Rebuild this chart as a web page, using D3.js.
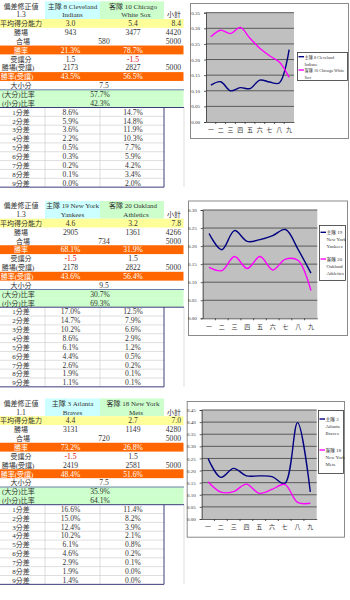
<!DOCTYPE html>
<html>
<head>
<meta charset="utf-8">
<script src="https://cdn.jsdelivr.net/npm/d3@7"></script>
<style>
  body { margin: 0; background: #fff; }
  svg { display: block; }
  text { font-family: "Liberation Serif", "Noto Sans CJK TC", serif; fill: #333; }
</style>
</head>
<body>
<svg id="sheet" width="350" height="600"></svg>
<script>
// ---- data ----
const handicapAdj = ["1.3", "1.3", "1.1"];
const homeTeams = [["主隊  8 Cleveland", "Indians"], ["主隊  19 New York", "Yankees"], ["主隊  3 Atlanta", "Braves"]];
const awayTeams = [["客隊  10 Chicago", "White Sox"], ["客隊  20 Oakland", "Athletics"], ["客隊  18 New York", "Mets"]];
const avgScore = [["3.0", "5.4", "8.4"], ["4.6", "3.2", "7.8"], ["4.4", "2.7", "7.0"]];
const wins = [[943, 3477, 4420], [2905, 1361, 4266], [3131, 1149, 4280]];
const ties = [580, 734, 720];
const totalGames = 5000;
const winPct = [["21.3%", "78.7%"], ["68.1%", "31.9%"], ["73.2%", "26.8%"]];
const spread = [["1.5", "-1.5"], ["-1.5", "1.5"], ["-1.5", "1.5"]];
const spreadWins = [[2173, 2827], [2178, 2822], [2419, 2581]];
const spreadPct = [["43.5%", "56.5%"], ["43.6%", "56.4%"], ["48.4%", "51.6%"]];
const totalLine = ["7.5", "9.5", "7.5"];
const overPct = ["57.7%", "30.7%", "35.9%"];
const underPct = ["42.3%", "69.3%", "64.1%"];
const marginLabels = ["1分差", "2分差", "3分差", "4分差", "5分差", "6分差", "7分差", "8分差", "9分差"];
const homeMargin = [
  [8.6, 5.9, 3.6, 2.2, 0.5, 0.3, 0.2, 0.1, 0.0],
  [17.0, 14.7, 10.2, 8.6, 6.1, 4.4, 2.6, 1.9, 1.1],
  [16.6, 15.0, 12.4, 10.2, 6.1, 4.6, 2.9, 1.9, 1.4]
];
const awayMargin = [
  [14.7, 14.8, 11.9, 10.3, 7.7, 5.9, 4.2, 3.4, 2.0],
  [12.5, 7.9, 6.6, 2.9, 1.2, 0.5, 0.2, 0.1, 0.1],
  [11.4, 8.2, 3.9, 2.1, 0.8, 0.2, 0.1, 0.0, 0.0]
];
// chart: per inning
const innings = ["一", "二", "三", "四", "五", "六", "七", "八", "九"];
const homeLine = [
  [0.118, 0.129, 0.100, 0.110, 0.107, 0.134, 0.128, 0.125, 0.232],
  [0.235, 0.190, 0.243, 0.213, 0.218, 0.229, 0.246, 0.190, 0.125],
  [0.250, 0.172, 0.209, 0.178, 0.178, 0.175, 0.147, 0.398, 0.112]
];
const awayLine = [
  [0.273, 0.294, 0.283, 0.303, 0.268, 0.236, 0.212, 0.192, 0.143],
  [0.141, 0.132, 0.171, 0.138, 0.171, 0.134, 0.164, 0.160, 0.077],
  [0.154, 0.111, 0.113, 0.144, 0.106, 0.122, 0.143, 0.069, 0.065]
];
const yMax = [0.35, 0.30, 0.45];
const legendHome = [["主隊 8 Cleveland", "Indians"], ["主隊 19", "New York", "Yankees"], ["主隊 3", "Atlanta", "Braves"]];
const legendAway = [["客隊 10 Chicago White", "Sox"], ["客隊 20", "Oakland", "Athletics"], ["客隊 18", "New York", "Mets"]];

// ---- layout ----
const blockTop = [1.3, 201, 398.5];
const rowH = 8.85;
const colX = [0, 45, 100, 164, 184];
const chartBox = [
  { box: [190, 3, 348, 138], plot: [206, 12.7, 294, 122], legend: [297, 52, 347, 80], entryY: [4.7, 18], font: 4.2 },
  { box: [188, 200.5, 347, 335], plot: [202.7, 210, 317.3, 318.3], legend: [319, 225, 345, 280], entryY: [7.3, 34], font: 4.8 },
  { box: [186.7, 401, 344, 536.7], plot: [201.7, 410, 316.7, 519], legend: [318, 410, 343, 473], entryY: [9, 40], font: 4.8 }
];

const NAVY = "#000080", MAGENTA = "#ff00ff";
const CJK = "7px";
const svg = d3.select("#sheet");

function fmtInt(v) { return String(v); }

blockTop.forEach((top, b) => {
  const g = svg.append("g").attr("transform", `translate(0,${top})`);
  const rowY = i => i * rowH;
  const midY = i => i * rowH + rowH / 2 + 2.8;

  // backgrounds
  g.append("rect").attr("x", colX[1]).attr("y", 0).attr("width", colX[2] - colX[1]).attr("height", rowH * 2).attr("fill", "#ccffff");
  g.append("rect").attr("x", colX[2]).attr("y", 0).attr("width", colX[3] - colX[2]).attr("height", rowH * 2).attr("fill", "#ccffcc");
  const bands = [[2, "#ffff99"], [5, "#ff6600"], [8, "#ff6600"], [10, "#ccffcc"], [11, "#ccffcc"]];
  bands.forEach(([r, c]) => {
    g.append("rect").attr("x", 0).attr("y", rowY(r)).attr("width", colX[4] - 0.5).attr("height", rowH).attr("fill", c);
  });

  // grid in the margin section
  const grid = g.append("g").attr("stroke", "#c8c8c8").attr("stroke-width", 0.6);
  d3.range(13, 21).forEach(r => {
    grid.append("line").attr("x1", 0).attr("x2", colX[3]).attr("y1", rowY(r)).attr("y2", rowY(r));
  });
  [colX[1], colX[2]].forEach(x => {
    grid.append("line").attr("x1", x).attr("x2", x).attr("y1", rowY(12)).attr("y2", rowY(21));
  });
  grid.append("line").attr("x1", colX[4]).attr("x2", colX[4]).attr("y1", rowY(12)).attr("y2", rowY(21));

  // navy borders
  const nb = g.append("g").attr("stroke", "#3c3c7a").attr("stroke-width", 1);
  nb.append("line").attr("x1", 0).attr("x2", colX[4]).attr("y1", rowY(10)).attr("y2", rowY(10)).attr("stroke", "#6a7fa8");
  nb.append("line").attr("x1", 0).attr("x2", colX[4]).attr("y1", rowY(12)).attr("y2", rowY(12));
  nb.append("line").attr("x1", colX[3]).attr("x2", colX[3]).attr("y1", rowY(12)).attr("y2", rowY(21));
  nb.append("line").attr("x1", 0).attr("x2", colX[3]).attr("y1", rowY(21)).attr("y2", rowY(21));

  const cellText = (x, i, txt, anchor, opts = {}) => {
    g.append("text")
      .attr("x", x).attr("y", midY(i))
      .attr("text-anchor", anchor)
      .style("font-size", opts.size || "7.6px")
      .style("fill", opts.fill || "#333")
      .text(txt);
  };
  const cB = (colX[1] + colX[2]) / 2 - 2, cC = (colX[2] + colX[3]) / 2 + 1, cA = 21, rD = 181, mid = 104;

  // header
  cellText(cA, 0, "偏差修正値", "middle", { size: CJK });
  cellText(cA, 1, handicapAdj[b], "middle");
  cellText(cB + 2, 0, homeTeams[b][0], "middle", { size: CJK });
  cellText(cB + 2, 1, homeTeams[b][1], "middle", { size: CJK });
  cellText(cC, 0, awayTeams[b][0], "middle", { size: CJK });
  cellText(cC + 3, 1, awayTeams[b][1], "middle", { size: CJK });
  cellText(rD, 1, "小計", "end", { size: CJK });

  // body rows
  cellText(cA, 2, "平均得分能力", "middle", { size: CJK });
  avgScore[b].forEach((v, k) => cellText([cB, cC, rD][k], 2, v, k < 2 ? "middle" : "end"));
  cellText(cA, 3, "勝場", "middle", { size: CJK });
  wins[b].forEach((v, k) => cellText([cB, cC, rD][k], 3, fmtInt(v), k < 2 ? "middle" : "end"));
  cellText(cA + 2, 4, "合場", "middle", { size: CJK });
  cellText(mid, 4, fmtInt(ties[b]), "middle");
  cellText(rD, 4, fmtInt(totalGames), "end");
  cellText(cA, 5, "勝率", "middle", { size: CJK, fill: "#fff" });
  winPct[b].forEach((v, k) => cellText([cB, cC][k], 5, v, "middle", { fill: "#fff" }));
  cellText(cA, 6, "受讓分", "middle", { size: CJK });
  spread[b].forEach((v, k) => cellText([cB, cC][k], 6, v, "middle", { fill: v.startsWith("-") ? "#e00000" : "#333" }));
  cellText(cA - 3, 7, "勝場(受讓)", "middle", { size: CJK });
  spreadWins[b].forEach((v, k) => cellText([cB, cC][k], 7, fmtInt(v), "middle"));
  cellText(rD, 7, fmtInt(totalGames), "end");
  cellText(cA - 4, 8, "勝率(受讓)", "middle", { size: CJK, fill: "#fff" });
  spreadPct[b].forEach((v, k) => cellText([cB, cC][k], 8, v, "middle", { fill: "#fff" }));
  cellText(cA, 9, "大小分", "middle", { size: CJK });
  cellText(mid, 9, totalLine[b], "middle");
  cellText(2, 10, "(大分)比率", "start", { size: CJK });
  cellText(100, 10, overPct[b], "middle");
  cellText(2, 11, "(小分)比率", "start", { size: CJK });
  cellText(100, 11, underPct[b], "middle");
  marginLabels.forEach((lab, k) => {
    cellText(cA, 12 + k, lab, "middle", { size: CJK });
    cellText(cB, 12 + k, homeMargin[b][k].toFixed(1) + "%", "middle");
    cellText(cC, 12 + k, awayMargin[b][k].toFixed(1) + "%", "middle");
  });

  // ---- chart ----
  const cfg = chartBox[b];
  const cg = svg.append("g");
  cg.append("rect")
    .attr("x", cfg.box[0] + 0.5).attr("y", cfg.box[1] + 0.5)
    .attr("width", cfg.box[2] - cfg.box[0]).attr("height", cfg.box[3] - cfg.box[1])
    .attr("fill", "#fff").attr("stroke", "#8a8a8a").attr("stroke-width", 1);

  const x = d3.scaleBand().domain(innings).range([cfg.plot[0], cfg.plot[2]]).padding(0);
  const y = d3.scaleLinear().domain([0, yMax[b]]).range([cfg.plot[3], cfg.plot[1]]);
  const yTicks = d3.range(0, Math.round(yMax[b] / 0.05) + 1).map(k => k * 0.05);

  cg.append("rect")
    .attr("x", cfg.plot[0]).attr("y", cfg.plot[1])
    .attr("width", cfg.plot[2] - cfg.plot[0]).attr("height", cfg.plot[3] - cfg.plot[1])
    .attr("fill", "#c0c0c0");

  cg.append("g").selectAll("line").data(yTicks.slice(1)).join("line")
    .attr("x1", cfg.plot[0]).attr("x2", cfg.plot[2])
    .attr("y1", d => y(d)).attr("y2", d => y(d))
    .attr("stroke", "#5a5a5a").attr("stroke-width", 1);

  const yAxis = cg.append("g")
    .attr("transform", `translate(${cfg.plot[0]},0)`)
    .call(d3.axisLeft(y).tickValues(yTicks).tickFormat(d3.format(".2f")).tickSize(2).tickPadding(4));
  yAxis.selectAll("text").style("font-size", "5px").style("fill", "#333");
  yAxis.selectAll("line, path").attr("stroke", "#333").attr("stroke-width", 0.8);

  const xAxis = cg.append("g")
    .attr("transform", `translate(0,${cfg.plot[3]})`)
    .call(d3.axisBottom(x).tickSize(0).tickPadding(6));
  xAxis.selectAll("text").style("font-size", "6px").style("fill", "#333");
  xAxis.select("path").attr("stroke", "#333").attr("stroke-width", 0.8);
  cg.append("g").selectAll("line").data(innings.slice(1)).join("line")
    .attr("x1", d => x(d)).attr("x2", d => x(d))
    .attr("y1", cfg.plot[3]).attr("y2", cfg.plot[3] + 2)
    .attr("stroke", "#333").attr("stroke-width", 0.8);

  const line = d3.line()
    .x((d, i) => x(innings[i]) + x.bandwidth() / 2)
    .y(d => y(d))
    .curve(d3.curveCatmullRom.alpha(0.5));

  [[homeLine[b], NAVY], [awayLine[b], MAGENTA]].forEach(([vals, col]) => {
    cg.append("path").attr("d", line(vals))
      .attr("fill", "none").attr("stroke", col).attr("stroke-width", 1.4);
  });

  // legend
  const lg = cg.append("g");
  lg.append("rect")
    .attr("x", cfg.legend[0] + 0.5).attr("y", cfg.legend[1] + 0.5)
    .attr("width", cfg.legend[2] - cfg.legend[0]).attr("height", cfg.legend[3] - cfg.legend[1])
    .attr("fill", "#fff").attr("stroke", "#333").attr("stroke-width", 0.8);
  [[legendHome[b], NAVY], [legendAway[b], MAGENTA]].forEach(([lines, col], k) => {
    const ly = cfg.legend[1] + cfg.entryY[k];
    lg.append("line")
      .attr("x1", cfg.legend[0] + 1.5).attr("x2", cfg.legend[0] + 7)
      .attr("y1", ly).attr("y2", ly)
      .attr("stroke", col).attr("stroke-width", 1.4);
    lines.forEach((t, j) => {
      lg.append("text")
        .attr("x", cfg.legend[0] + 7.5).attr("y", ly + 1.8 + j * 7)
        .style("font-size", cfg.font + "px").style("fill", "#333")
        .text(t);
    });
  });
});
</script>
</body>
</html>
